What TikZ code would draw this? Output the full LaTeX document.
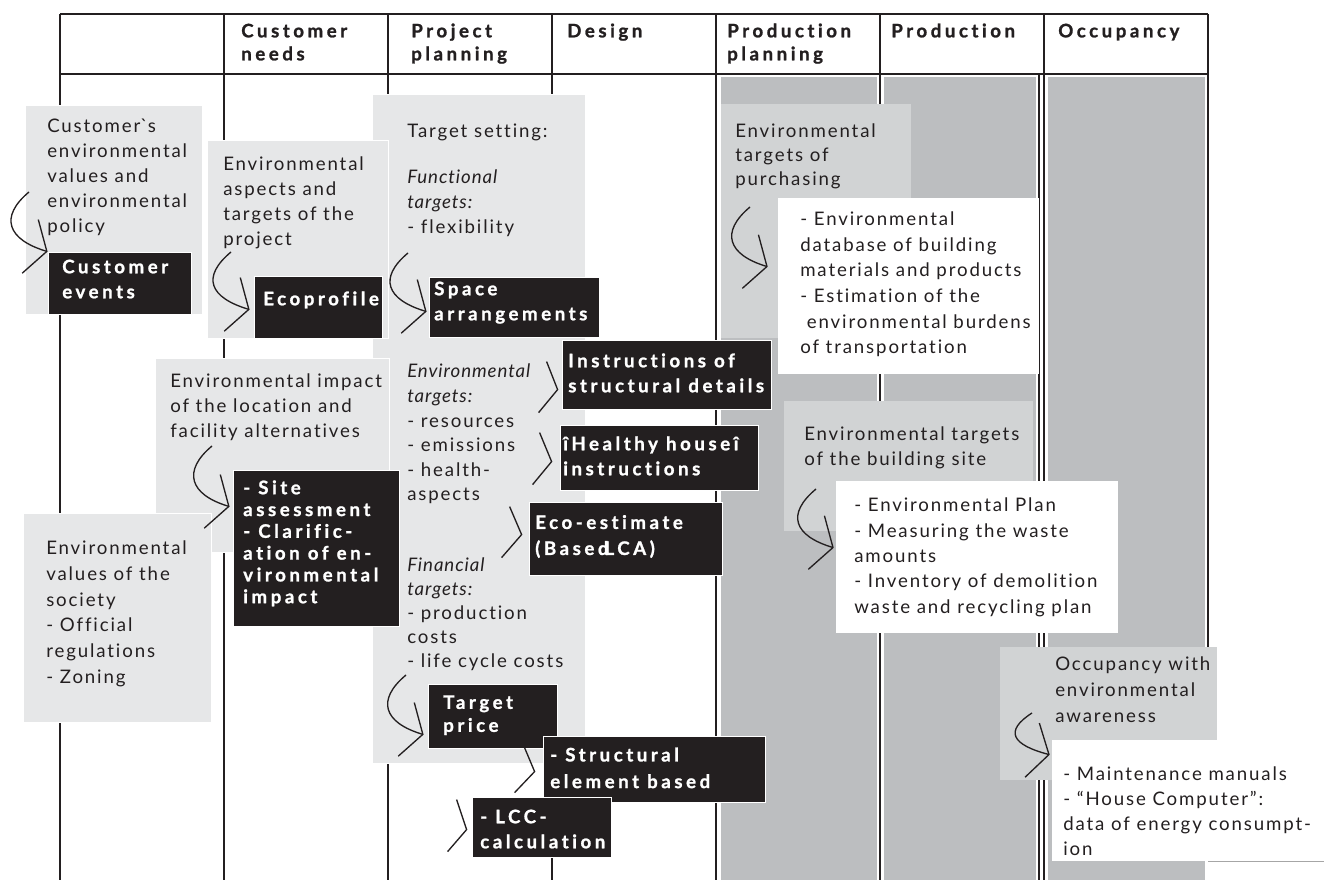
\documentclass[tikz,border=0pt]{standalone}
\usepackage{fontspec}
\setmainfont{Lato}[Ligatures={TeX,NoCommon},LetterSpace=10,BoldFeatures={LetterSpace=19,FakeBold=1.2},ItalicFeatures={LetterSpace=5}]
\usetikzlibrary{arrows.meta,positioning,fit,calc}

\definecolor{ink}{HTML}{231F20}
\definecolor{colgray}{HTML}{BCBEC0}
\definecolor{boxgray}{HTML}{E6E7E8}
\definecolor{midgray}{HTML}{D1D3D4}

\tikzset{
  graybox/.style={fill=boxgray,draw=white,line width=0.6pt,inner sep=0pt},
  midbox/.style={fill=midgray,draw=none,inner sep=0pt},
  whitebox/.style={fill=white,draw=none,inner sep=0pt},
  blackbox/.style={fill=ink,draw=white,line width=0.6pt,inner sep=0pt},
  txt/.style={anchor=north west,inner sep=0pt,align=left,text=ink,font=\fontsize{14}{18.75}\selectfont},
  btxt/.style={txt,text=white,font=\fontsize{14}{18.75}\selectfont\bfseries},
  hdr/.style={txt,font=\fontsize{14}{17.25}\selectfont\bfseries},
  curv/.style={ink,line width=1pt,-{Straight Barb[length=13pt,width=42pt]}},
  brk/.style={ink,line width=1pt},
  tline/.style={ink,line width=1.4pt}
}

\begin{document}
\begin{tikzpicture}[x=0.75pt,y=-0.75pt]
\useasboundingbox (0,0) rectangle (1324,880);

% grey columns
\fill[colgray] (721,77) rectangle (877,880);
\fill[colgray] (884,77) rectangle (1036,880);
\fill[colgray] (1048,77) rectangle (1205,880);

% table
\draw[tline] (60,14) -- (1208,14);
\draw[tline] (60,74) -- (1208,74);
\foreach \x in {60,224,388,552,716,880,1044}
  \draw[tline] (\x,14) -- (\x,880);
\draw[tline,line width=0.8pt] (1039,74) -- (1039,880);
\draw[tline] (1208,14) -- (1208,740);

\node[hdr] (h1) at (241,21) {\strut Customer\\needs};
\node[hdr] (h2) at (411,21) {\strut Project\\planning};
\node[hdr] (h3) at (567,21) {\strut Design};
\node[hdr] (h4) at (727,21) {\strut Production\\planning};
\node[hdr] (h5) at (891,21) {\strut Production};
\node[hdr] (h6) at (1058,21) {\strut Occupancy};

% project planning column
\node[graybox,fit={(372,94) (585,763)}] (tgtset) {};
\node[txt] (tgtset-t) at (407,119.5) {\strut Target setting:};
\node[txt] (func-t) at (407,165.5) {\strut\textit{Functional}\\\textit{targets:}\\- flexibility};
\node[txt,font=\fontsize{14}{18.4}\selectfont] (envt-t) at (407,360.5)
  {\strut\textit{Environmental}\\\textit{targets:}\\- resources\\- emissions\\- health-\\aspects};
\node[txt,font=\fontsize{14}{18}\selectfont] (fint-t) at (407,554.5)
  {\strut\textit{Financial}\\\textit{targets:}\\- production\\costs\\- life cycle costs};

% customer needs
\node[graybox,fit={(207,140) (388,338)}] (ecoasp) {};
\node[txt] (ecoasp-t) at (223,152.5) {\strut Environmental\\aspects and\\targets of the\\project};
\node[graybox,fit={(25,105) (202,314)}] (custval) {};
\node[txt] (custval-t) at (47,114.5) {\strut Customer\textasciigrave s\\environmental\\values and\\environmental\\policy};
\node[graybox,fit={(155,358) (389,552)}] (locimp) {};
\node[txt] (locimp-t) at (170,369.5) {\strut Environmental impact\\of the location and\\facility alternatives};
\node[graybox,fit={(23,513) (211,722)}] (society) {};
\node[txt,font=\fontsize{14}{19.3}\selectfont] (society-t) at (46,536.5)
  {\strut Environmental\\values of the\\society\\- Official\\regulations\\- Zoning};

% black boxes
\node[blackbox,fit={(48,252) (191,314)}] (custev) {};
\node[btxt] (custev-t) at (62,255.5) {\strut Customer\\events};
\node[blackbox,fit={(254,276) (382,338)}] (ecoprof) {};
\node[btxt] (ecoprof-t) at (263,287.5) {\strut Ecoprofile};
\node[blackbox,fit={(429,277) (599,337)}] (space) {};
\node[btxt] (space-t) at (434,277.5) {\strut Space\\arrangements};
\node[blackbox,fit={(562,340) (771,409)}] (instr) {};
\node[btxt] (instr-t) at (568,349.5) {\strut Instructions of\\structural details};
\node[blackbox,fit={(560,425) (758,490)}] (healthy) {};
\node[btxt] (healthy-t) at (563,432.5) {\strut îHealthy houseî\\instructions};
\node[blackbox,fit={(529,502) (722,575)}] (ecoest) {};
\node[btxt,font=\fontsize{14}{19.5}\selectfont\bfseries] (ecoest-t) at (535,510.5) {\strut Eco-estimate\\(Based\hspace{-3pt}LCA)};
\node[blackbox,fit={(233,470) (399,626)}] (siteas) {};
\node[btxt,font=\fontsize{14}{16.35}\selectfont\bfseries] (siteas-t) at (243,478.7)
  {\strut - Site\\assessment\\- Clarific-\\ation of en-\\vironmental\\impact};
\node[blackbox,fit={(428,684) (557,748)}] (tprice) {};
\node[btxt,font=\fontsize{14}{17.25}\selectfont\bfseries] (tprice-t) at (443,692.5) {\strut Target\\price};
\node[blackbox,fit={(543,736) (765,802)}] (struct) {};
\node[btxt,font=\fontsize{14}{20}\selectfont\bfseries] (struct-t) at (550,742.5) {\strut - Structural\\element based};
\node[blackbox,fit={(472,797) (611,857)}] (lcc) {};
\node[btxt] (lcc-t) at (480,805.5) {\strut - LCC-\\calculation};

% production planning / production / occupancy
\node[midbox,fit={(721,104) (911,338)}] (purch) {};
\node[txt,font=\fontsize{14}{18}\selectfont] (purch-t) at (735,120.5) {\strut Environmental\\targets of\\purchasing};
\node[whitebox,fit={(778,198) (1039,374)}] (purchdb) {};
\node[txt,font=\fontsize{14}{19.2}\selectfont] (purchdb-t) at (800,207.5)
  {\strut - Environmental\\database of building\\materials and products\\- Estimation of the\\\hspace{5pt}environmental burdens\\of transportation};
\node[midbox,fit={(784,401) (1033,531)}] (bsite) {};
\node[txt] (bsite-t) at (804,422.5) {\strut Environmental targets\\of the building site};
\node[whitebox,fit={(836,481) (1118,633)}] (bsitepl) {};
\node[txt,font=\fontsize{14}{19.1}\selectfont] (bsitepl-t) at (854,493.5)
  {\strut - Environmental Plan\\- Measuring the waste\\amounts\\- Inventory of demolition\\waste and recycling plan};
\node[midbox,fit={(1000,647) (1217,780)}] (occ) {};
\node[txt,font=\fontsize{14}{19.5}\selectfont] (occ-t) at (1055,652.5) {\strut Occupancy with\\environmental\\awareness};
\node[whitebox,fit={(1052,740) (1324,861)}] (occman) {};
\node[txt] (occman-t) at (1063,762.5)
  {\strut - Maintenance manuals\\- “House Computer”:\\data of energy consumpt-\\ion};
\draw[black!35,line width=0.5pt] (occman.south east) -- ++(-116,0);

% curved arrows
\coordinate (a1) at (29,192);
\coordinate (a2) at (231,252);
\coordinate (a3) at (408,253);
\coordinate (a4) at (406,675);
\coordinate (a5) at (750,207);
\coordinate (a6) at (816,489);
\coordinate (a7) at (1032,713);
\coordinate (a8) at (212,446);
\draw[curv] (a1) .. controls +(-30,25) and +(-40,-12) .. (custev.north west);
\draw[curv] (a2) .. controls +(-30,25) and +(-40,-12) .. ($(ecoprof.north west)+(-4,34)$);
\draw[curv] (a3) .. controls +(-30,25) and +(-40,-12) .. ($(space.north west)+(-2,35)$);
\draw[curv] (a4) .. controls +(-30,25) and +(-40,-12) .. ($(tprice.north west)+(-4,51)$);
\draw[curv] (a5) .. controls +(-30,25) and +(-40,-12) .. ($(purchdb.north west)+(-10,69)$);
\draw[curv] (a6) .. controls +(-30,25) and +(-40,-12) .. ($(bsitepl.north west)+(-2,67)$);
\draw[curv] (a7) .. controls +(-28,18) and +(-38,-10) .. ($(occman.north west)+(-2,15)$);
\draw[curv] (a8) .. controls +(-30,25) and +(-40,-12) .. ($(siteas.north west)+(-3,37)$);

% brackets
\draw[brk] ($(instr.north west)+(-15,22)$) -- ($(instr.north west)+(-4,50)$) -- ($(instr.north west)+(-23,73)$);
\draw[brk] ($(healthy.north west)+(-20,8)$) -- ($(healthy.north west)+(-8,37)$) -- ($(healthy.north west)+(-27,60)$);
\draw[brk] ($(ecoest.north west)+(-19,5)$) -- ($(ecoest.north west)+(-7,33)$) -- ($(ecoest.north west)+(-27,56)$);
\draw[brk] ($(struct.north west)+(-21,5)$) -- ($(struct.north west)+(-8,36)$) -- ($(struct.north west)+(-28,57)$);
\draw[brk] ($(lcc.north west)+(-15,3)$) -- ($(lcc.north west)+(-5,33)$) -- ($(lcc.north west)+(-24,55)$);
\end{tikzpicture}
\end{document}
